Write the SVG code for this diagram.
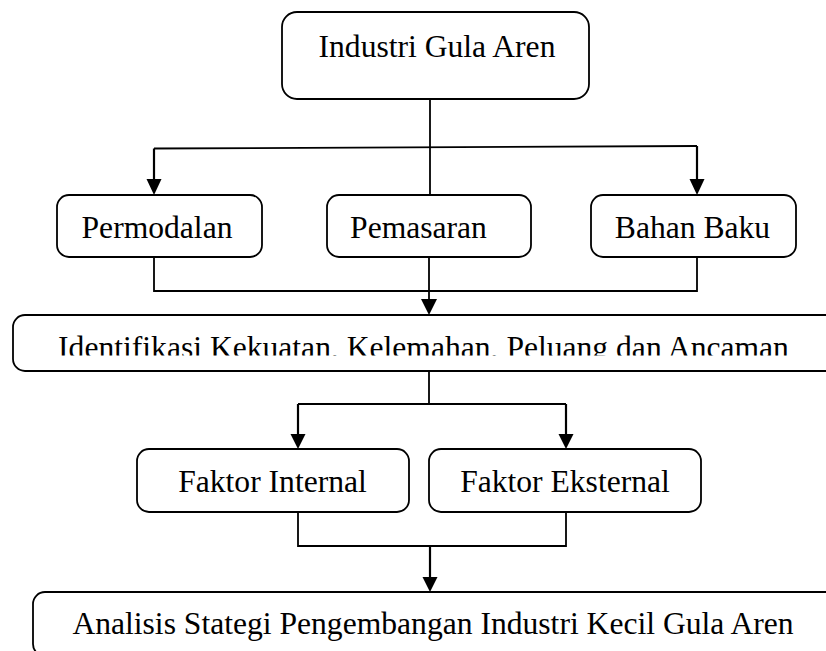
<svg xmlns="http://www.w3.org/2000/svg" width="826" height="651" viewBox="0 0 826 651">
<style>
.box{fill:#fff;stroke:#000;stroke-width:1.8}
.t{font-family:"Liberation Serif","Times New Roman",serif;font-size:31.6px;fill:#000;text-anchor:middle}
.ln{fill:none;stroke:#000;stroke-width:1.8}
.ar{fill:none;stroke:#000;stroke-width:2.2}
.hd{fill:#000}
</style>
<defs>
<clipPath id="clipId"><rect x="0" y="316" width="826" height="39.5"/></clipPath>
</defs>
<g id="connectors">
<path class="ln" d="M430,99 V195"/>
<path class="ln" d="M154,148.5 L697,146"/>
<path class="ar" d="M154,148.5 V181"/>
<polygon class="hd" points="146.5,179 161.5,179 154,195"/>
<path class="ar" d="M697,146 V181"/>
<polygon class="hd" points="689.5,179 704.5,179 697,195"/>
<path class="ln" d="M154,257 V291 H697 V257"/>
<path class="ln" d="M429,257 V300"/>
<polygon class="hd" points="421,299 437,299 429,315"/>
<path class="ln" d="M429,371 V404"/>
<path class="ar" d="M298,404 H566"/>
<path class="ar" d="M298,404 V436"/>
<polygon class="hd" points="290.5,434 305.5,434 298,449"/>
<path class="ar" d="M566,404 V436"/>
<polygon class="hd" points="558.5,434 573.5,434 566,449"/>
<path class="ln" d="M298,512 V546 H566 V512"/>
<path class="ar" d="M430,546 V579"/>
<polygon class="hd" points="422.5,577 437.5,577 430,592"/>
</g>
<g id="n-industri">
<rect class="box" x="282" y="12" width="307" height="87" rx="15"/>
<text class="t" x="437" y="57">Industri Gula Aren</text>
</g>
<g id="n-permodalan">
<rect class="box" x="57" y="195" width="205" height="62" rx="12"/>
<text class="t" x="157" y="238">Permodalan</text>
</g>
<g id="n-pemasaran">
<rect class="box" x="327" y="195" width="204" height="62" rx="12"/>
<text class="t" x="418.5" y="238">Pemasaran</text>
</g>
<g id="n-bahanbaku">
<rect class="box" x="591" y="195" width="205" height="62" rx="12"/>
<text class="t" x="692.5" y="238">Bahan Baku</text>
</g>
<g id="n-identifikasi">
<rect class="box" x="13" y="315" width="840" height="56" rx="12"/>
<text class="t" x="423.5" y="358" clip-path="url(#clipId)">Identifikasi Kekuatan, Kelemahan, Peluang dan Ancaman</text>
</g>
<g id="n-internal">
<rect class="box" x="137" y="449" width="272" height="63" rx="12"/>
<text class="t" x="272.5" y="492">Faktor Internal</text>
</g>
<g id="n-eksternal">
<rect class="box" x="429" y="449" width="272" height="63" rx="12"/>
<text class="t" x="565" y="492">Faktor Eksternal</text>
</g>
<g id="n-analisis">
<rect class="box" x="33" y="592" width="820" height="64" rx="12"/>
<text class="t" x="433" y="634">Analisis Stategi Pengembangan Industri Kecil Gula Aren</text>
</g>
</svg>
